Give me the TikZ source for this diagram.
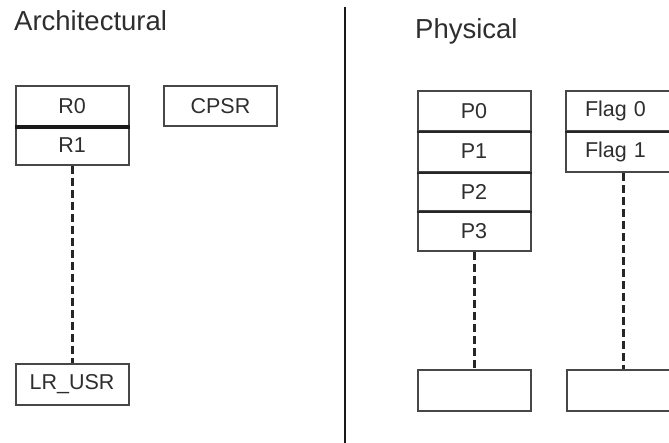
\documentclass[tikz,border=0pt]{standalone}
\usepackage{fontspec}
\setmainfont{Liberation Sans}
\definecolor{txt}{HTML}{2E2E2E}
\definecolor{edge}{HTML}{474747}
\begin{document}
\begin{tikzpicture}[x=1pt,y=-1pt,
  title/.style={anchor=north west,inner sep=0pt,text=txt,font=\fontsize{27.5}{30}\selectfont},
  cell/.style={draw=edge,line width=2pt,minimum width=113pt,minimum height=40pt,inner sep=0pt,text=txt,font=\fontsize{21.5}{24}\selectfont},
  divider/.style={line width=2.6pt,black!85},
  dots/.style={draw=black!85,line width=3pt,dash pattern=on 8pt off 4pt}
]
\useasboundingbox (0,0) rectangle (669,443);
% titles
\node[title] (tA) at (14,10) {Architectural};
\node[title] (tP) at (415,18) {Physical};
% separator
\coordinate (sepT) at (345,7);
\coordinate (sepB) at (345,443);
\draw[line width=2.8pt,black!90] (sepT) -- (sepB);
% Architectural
\node[cell] (r0) at (72,106) {R0};
\node[cell,minimum height=39pt] (r1) at (72,145.5) {R1};
\draw[line width=3.4pt,black!90] (r0.south west) -- (r0.south east);
\node[cell] (cpsr) at (220.5,106) {CPSR};
\node[cell,minimum height=41pt] (lr) at (72,384.5) {LR\_USR};
\draw[dots] (r1.south) -- (lr.north);
% Physical
\node[cell] (p0) at (474,111) {P0};
\node[cell,minimum height=41pt] (p1) at (474,151.5) {P1};
\node[cell,minimum height=39pt] (p2) at (474,191.5) {P2};
\node[cell] (p3) at (474,231) {P3};
\foreach \n in {p0,p1,p2}{\draw[divider] (\n.south west) -- (\n.south east);}
\node[cell,minimum height=41pt] (pn) at (474,390.5) {};
\draw[dots] (p3.south) -- (pn.north);
\node[cell,text width=76pt,align=left,inner xsep=19pt] (f0) at (623,111) {Flag 0};
\node[cell,text width=76pt,align=left,inner xsep=19pt,minimum height=41pt] (f1) at (623,151.5) {Flag 1};
\draw[divider] (f0.south west) -- (f0.south east);
\node[cell,minimum height=41pt] (fn) at (623,390.5) {};
\draw[dots] (f1.south) -- (fn.north);
\end{tikzpicture}
\end{document}
